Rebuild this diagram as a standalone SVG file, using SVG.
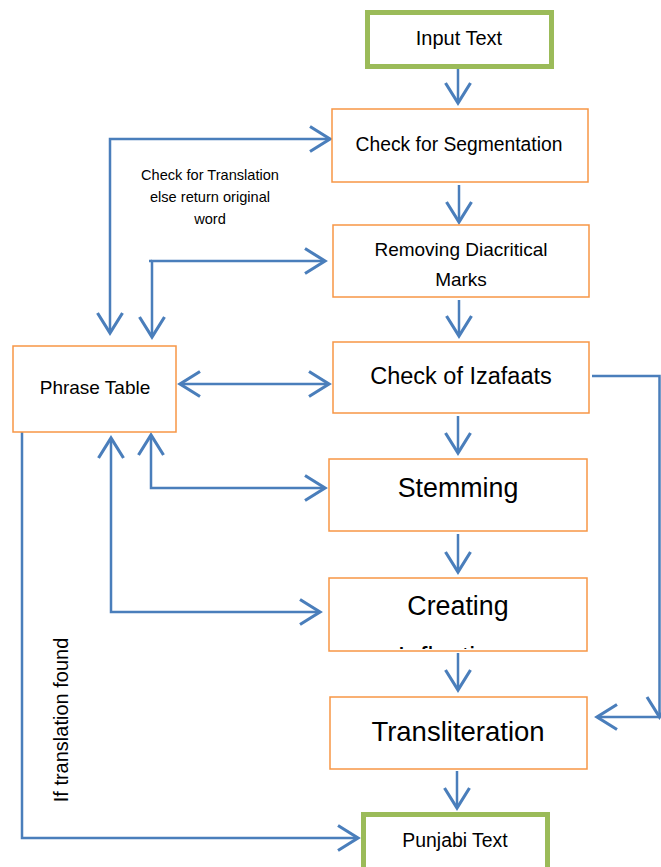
<svg xmlns="http://www.w3.org/2000/svg" width="661" height="867" viewBox="0 0 661 867">
<style>
.g{fill:#fff;stroke:#9bbb59;stroke-width:5}
.o{fill:#fff;stroke:#f79646;stroke-width:1.5}
.t{font-family:"Liberation Sans",Arial,sans-serif;fill:#000;text-anchor:middle}
.c{fill:none;stroke:#4a7ebb;stroke-width:2.5}
</style>
<defs>
<marker id="a" markerUnits="userSpaceOnUse" markerWidth="30" markerHeight="30" viewBox="-20 -12 24 24" refX="0" refY="0" orient="auto-start-reverse">
<path d="M-16,-10 L0,0 L-16,10" fill="none" stroke="#4a7ebb" stroke-width="2.5"/>
</marker>
<clipPath id="cc"><rect x="330" y="579" width="256" height="70"/></clipPath>
</defs>
<g id="connectors" class="c">
<path d="M458,69 V103" marker-end="url(#a)"/>
<path d="M459,185 V222" marker-end="url(#a)"/>
<path d="M459,300 V336" marker-end="url(#a)"/>
<path d="M458,416 V453" marker-end="url(#a)"/>
<path d="M458,534 V572" marker-end="url(#a)"/>
<path d="M458,653 V690" marker-end="url(#a)"/>
<path d="M457,771 V808" marker-end="url(#a)"/>
<path d="M110,333 V139 H330" marker-start="url(#a)" marker-end="url(#a)"/>
<path d="M152,337 V261 H325" marker-start="url(#a)" marker-end="url(#a)"/>
<path d="M149,261 H152"/>
<path d="M180,384 H329" marker-start="url(#a)" marker-end="url(#a)"/>
<path d="M151,435 V488 H325" marker-start="url(#a)" marker-end="url(#a)"/>
<path d="M111,438 V612 H320" marker-start="url(#a)" marker-end="url(#a)"/>
<path d="M22,432 V838 H358" marker-end="url(#a)"/>
<path d="M592,376 H659.5 V717" marker-end="url(#a)"/>
<path d="M659.5,717 H597" marker-end="url(#a)"/>
</g>
<g id="input"><rect class="g" x="367.5" y="12.5" width="184" height="54"/><text class="t" x="459" y="45" font-size="20">Input Text</text></g>
<g id="segmentation"><rect class="o" x="332" y="109" width="256" height="73"/><text class="t" x="459" y="151" font-size="19.3">Check for Segmentation</text></g>
<g id="diacritical"><rect class="o" x="333" y="225" width="256" height="72"/><text class="t" x="461" y="256" font-size="19">Removing Diacritical</text><text class="t" x="461" y="286" font-size="19">Marks</text></g>
<g id="izafaats"><rect class="o" x="333" y="342" width="256" height="71"/><text class="t" x="461" y="384" font-size="23.5">Check of Izafaats</text></g>
<g id="stemming"><rect class="o" x="329" y="459" width="258" height="72"/><text class="t" x="458" y="497" font-size="26.8">Stemming</text></g>
<g id="inflections"><rect class="o" x="329" y="578" width="258" height="73"/><g clip-path="url(#cc)"><text class="t" x="458" y="615" font-size="26.8">Creating</text><text class="t" x="458" y="666" font-size="26.8">Inflections</text></g></g>
<g id="transliteration"><rect class="o" x="330" y="697" width="257" height="72"/><text class="t" x="458" y="741" font-size="27.5">Transliteration</text></g>
<g id="punjabi"><rect class="g" x="363.5" y="814.5" width="184" height="60"/><text class="t" x="455" y="847" font-size="19.4">Punjabi Text</text></g>
<g id="phrase"><rect class="o" x="13" y="346" width="163" height="86"/><text class="t" x="95" y="394" font-size="19">Phrase Table</text></g>
<g id="labels">
<text class="t" x="210" y="180" font-size="14.6">Check for Translation</text>
<text class="t" x="210" y="202" font-size="14.6">else return original</text>
<text class="t" x="210" y="224" font-size="14.6">word</text>
<text class="t" transform="translate(68,720) rotate(-90)" font-size="20">If translation found</text>
</g>
</svg>
